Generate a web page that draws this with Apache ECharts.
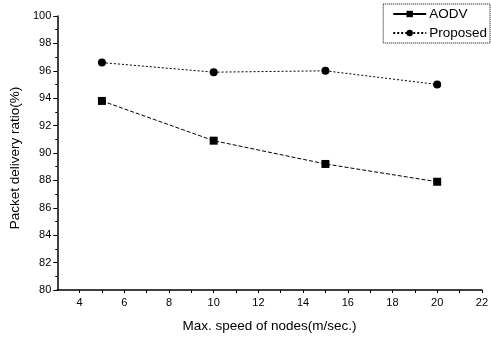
<!DOCTYPE html>
<html>
<head>
<meta charset="utf-8">
<script src="https://cdn.jsdelivr.net/npm/echarts@6/dist/echarts.min.js"></script>
<style>
    html, body { margin: 0; padding: 0; background: #fff; }
    #chart { width: 491px; height: 338px; }
</style>
</head>
<body>
<div id="chart"></div>
<script>
// 数据
const speeds = [5, 10, 15, 20];
const aodvValues = [93.8, 90.9, 89.2, 87.9];
const proposedValues = [96.6, 95.9, 96.0, 95.0];
const seriesNames = ['AODV', 'Proposed'];

const FONT = 'Liberation Sans, Arial, sans-serif';

function pairs(xs, ys) {
    return xs.map((x, i) => [x, ys[i]]);
}

document.addEventListener('DOMContentLoaded', function () {
    const chart = echarts.init(document.getElementById('chart'));

    const option = {
        backgroundColor: '#fff',
        animation: false,
        grid: {
            left: 54,
            right: 6,
            top: 16,
            bottom: 47
        },
        legend: {
            right: 1,
            top: 4,
            orient: 'vertical',
            itemWidth: 33,
            itemHeight: 8,
            itemGap: 5,
            padding: [3, 3, 3, 9],
            borderColor: '#000',
            borderWidth: 1,
            borderType: 'dotted',
            textStyle: { color: '#000', fontSize: 13.5, fontFamily: FONT, padding: [0, 0, 0, -2] },
            data: [
                { name: seriesNames[0], lineStyle: { type: 'solid' } },
                { name: seriesNames[1] }
            ]
        },
        xAxis: {
            type: 'value',
            min: 3,
            max: 22,
            interval: 1,
            name: 'Max. speed of nodes(m/sec.)',
            nameLocation: 'middle',
            nameGap: 29,
            nameTextStyle: { color: '#000', fontSize: 13.5, fontFamily: FONT },
            axisLine: { show: true, onZero: false, lineStyle: { color: '#000', width: 1.5 } },
            axisTick: { show: true, inside: false, length: 3, lineStyle: { color: '#000' } },
            axisLabel: {
                color: '#000',
                fontSize: 11,
                fontFamily: FONT,
                margin: 7,
                showMinLabel: false,
                formatter: function (v) {
                    return v % 2 === 0 ? String(v) : '';
                }
            },
            splitLine: { show: false }
        },
        yAxis: {
            type: 'value',
            min: 80,
            max: 100,
            interval: 2,
            name: 'Packet delivery ratio(%)',
            nameLocation: 'middle',
            nameGap: 32,
            nameTextStyle: { color: '#000', fontSize: 13.5, fontFamily: FONT, padding: [0, 10, 0, 0] },
            axisLine: { show: true, onZero: false, lineStyle: { color: '#000', width: 1.5 } },
            axisTick: { show: true, inside: false, length: 4, lineStyle: { color: '#000' } },
            minorTick: { show: true, splitNumber: 2, length: 2, lineStyle: { color: '#000' } },
            axisLabel: { color: '#000', fontSize: 11, fontFamily: FONT, margin: 6 },
            splitLine: { show: false }
        },
        series: [
            {
                name: seriesNames[0],
                type: 'line',
                data: pairs(speeds, aodvValues),
                symbol: 'rect',
                symbolSize: 8,
                itemStyle: { color: '#000' },
                lineStyle: { color: '#000', width: 1, type: [4, 2] }
            },
            {
                name: seriesNames[1],
                type: 'line',
                data: pairs(speeds, proposedValues),
                symbol: 'circle',
                symbolSize: 8,
                itemStyle: { color: '#000' },
                lineStyle: { color: '#000', width: 1, type: [2, 2] }
            }
        ]
    };

    chart.setOption(option);
});
</script>
</body>
</html>
